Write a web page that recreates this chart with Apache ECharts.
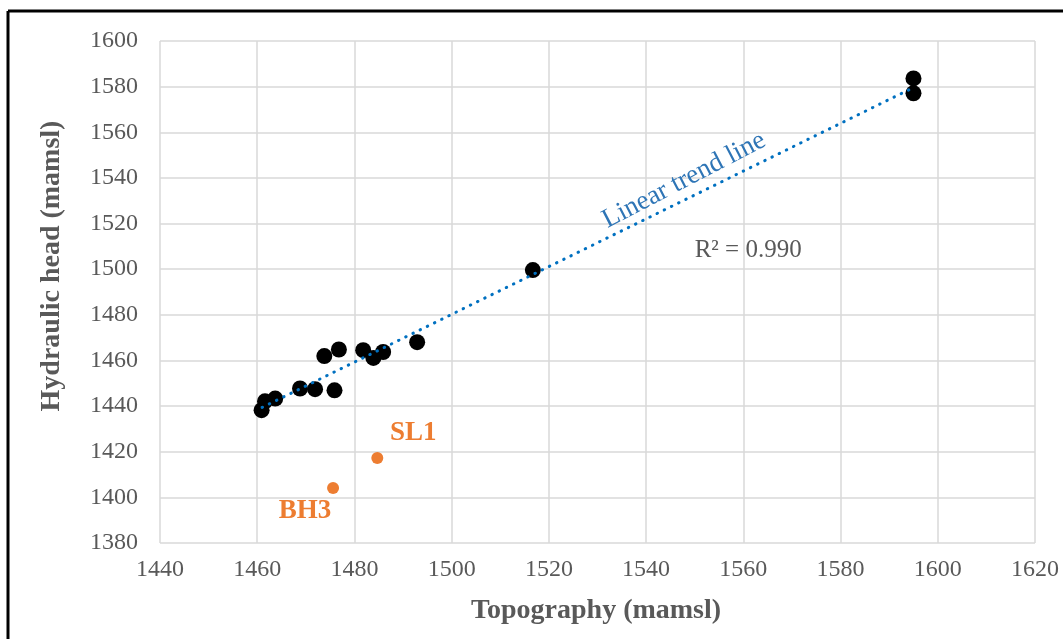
<!DOCTYPE html>
<html>
<head>
<meta charset="utf-8">
<script src="https://cdn.jsdelivr.net/npm/echarts@6/dist/echarts.min.js"></script>
<style>
  html, body { margin: 0; padding: 0; background: #fff; }
  #main { width: 1063px; height: 639px; }
</style>
</head>
<body>
<div id="main"></div>
<script>
// measured wells: [topography, hydraulic head]
var wells = [
    [1460.9, 1438.2], [1461.6, 1442.1], [1463.7, 1443.3], [1468.8, 1447.7],
    [1471.9, 1447.4], [1475.9, 1446.9], [1473.8, 1461.9], [1476.8, 1464.8],
    [1481.8, 1464.5], [1483.9, 1461.1], [1485.9, 1463.7], [1492.9, 1468.0],
    [1516.7, 1499.6], [1595.0, 1583.6], [1595.0, 1577.1]
];
// outliers, labelled
var outlierNames = ['SL1', 'BH3'];
var outliers = [[1484.7, 1417.2], [1475.6, 1404.1]];
// trend line end points
var trend = [[1461, 1439.4], [1595, 1579.6]];
var trendLabelAt = [1547.8, 1539];
var r2LabelAt = [1561, 1508];

var grey = '#595959';
var serif = '"Liberation Serif", "DejaVu Serif", serif';

function plain(v) { return String(v); }

var dom = document.getElementById('main');
var chart = echarts.init(dom);

var option = {
    animation: false,
    grid: { left: 160, right: 28, top: 41, bottom: 96 },
    xAxis: {
        type: 'value', min: 1440, max: 1620, interval: 20,
        axisLine: { show: false }, axisTick: { show: false },
        axisLabel: { fontFamily: serif, fontSize: 24, color: grey, margin: 15, formatter: plain },
        splitLine: { show: true, lineStyle: { color: '#d9d9d9', width: 1.5 } }
    },
    yAxis: {
        type: 'value', min: 1380, max: 1600, interval: 20,
        axisLine: { show: false }, axisTick: { show: false },
        axisLabel: { fontFamily: serif, fontSize: 24, color: grey, margin: 22, formatter: plain },
        splitLine: { show: true, lineStyle: { color: '#d9d9d9', width: 1.5 } }
    },
    series: [
        {
            type: 'line', data: trend, symbol: 'none', z: 3,
            lineStyle: { color: '#0070C0', width: 3, type: [0.5, 7.5], cap: 'round' }
        },
        {
            type: 'scatter', data: wells, symbolSize: 16, z: 2,
            itemStyle: { color: '#000', opacity: 1 }
        },
        {
            type: 'scatter', symbolSize: 12, z: 2,
            itemStyle: { color: '#ED7D31', opacity: 1 },
            data: outliers.map(function(p, i) {
                return {
                    value: p, name: outlierNames[i],
                    label: {
                        show: true, formatter: '{b}', position: 'inside',
                        offset: i === 0 ? [36, -25] : [-28, 23],
                        fontFamily: serif, fontWeight: 'bold', fontSize: 27, color: '#ED7D31'
                    }
                };
            })
        }
    ]
};
chart.setOption(option);

var tp = chart.convertToPixel({ gridIndex: 0 }, trendLabelAt);
var rp = chart.convertToPixel({ gridIndex: 0 }, r2LabelAt);
chart.setOption({
    graphic: [
        {
            type: 'text', x: tp[0], y: tp[1], rotation: 27.5 * Math.PI / 180,
            style: { text: 'Linear trend line', font: '27px ' + serif, fill: '#2E75B6', align: 'center', verticalAlign: 'middle' }
        },
        {
            type: 'text', x: rp[0], y: rp[1],
            style: { text: 'R² = 0.990', font: '25px ' + serif, fill: grey, align: 'center', verticalAlign: 'middle' }
        },
        // axis titles
        {
            type: 'text', x: 596, y: 611,
            style: { text: 'Topography (mamsl)', font: 'bold 28px ' + serif, fill: grey, align: 'center', verticalAlign: 'middle' }
        },
        {
            type: 'text', x: 52, y: 266, rotation: Math.PI / 2,
            style: { text: 'Hydraulic head (mamsl)', font: 'bold 28px ' + serif, fill: grey, align: 'center', verticalAlign: 'middle' }
        },
        // chart frame
        { type: 'line', shape: { x1: 8, y1: 11, x2: 1063, y2: 11 }, style: { stroke: '#000', lineWidth: 3 } },
        { type: 'line', shape: { x1: 8, y1: 11, x2: 8, y2: 639 }, style: { stroke: '#000', lineWidth: 3 } }
    ]
});
</script>
</body>
</html>
